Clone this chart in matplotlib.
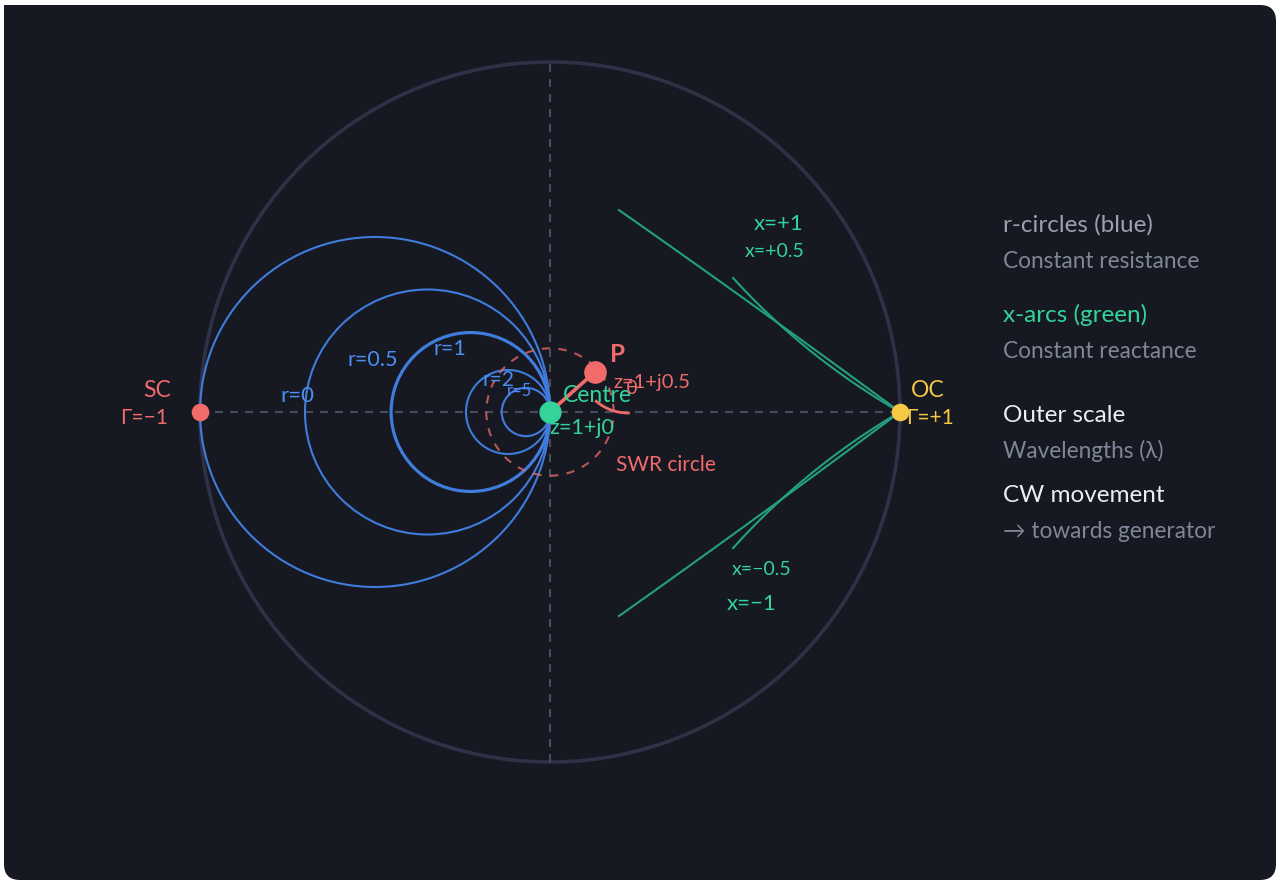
import numpy as np
import matplotlib
matplotlib.use("Agg")
import matplotlib.pyplot as plt
from matplotlib.patches import Circle, FancyBboxPatch, Arc, Rectangle

plt.rcParams['font.family'] = ['Lato', 'DejaVu Sans']

# ---------------- data ----------------
r_values = [0, 0.5, 1, 2, 5]
r_radii = [0.500, 0.350, 0.227, 0.120, 0.069]      # drawn radius of each r-circle (chart units)
r_widths = [1.5, 1.5, 2.3, 1.5, 1.5]
r_labels = ["r=0", "r=0.5", "r=1", "r=2", "r=5"]

x_values = [1, 0.5, -0.5, -1]
x_end_points = [(0.197, 0.577), (0.523, 0.383), (0.523, -0.389), (0.197, -0.583)]
x_bulge = [-0.003, 0.024, -0.024, 0.003]
x_labels = ["x=+1", "x=+0.5", "x=\u22120.5", "x=\u22121"]

swr_radius = 0.182
point_P = (0.129, 0.115)

legend_items = [
    ("r-circles (blue)", "title_gray"),
    ("Constant resistance", "sub"),
    ("x-arcs (green)", "title_green"),
    ("Constant reactance", "sub"),
    ("Outer scale", "title_white"),
    ("Wavelengths (\u03bb)", "sub"),
    ("CW movement", "title_white"),
    ("\u2192 towards generator", "sub"),
]
legend_y_px = [224, 260, 314, 351, 415, 450, 494, 530]

# ---------------- colours ----------------
BG = "#161922"
OUTER = "#2e3246"
AXIS = "#474d5e"
BLUE = "#3f7cdb"
BLUE_T = "#4d8ef2"
GREEN_LINE = "#23a07e"
GREEN = "#34d399"
RED = "#f26b6b"
YELLOW = "#f6c945"
GRAY_T = "#9ba1b1"
GRAY_S = "#7f8698"
WHITE = "#eceef3"

W, H = 1277, 881
CX, CY, UNIT = 550, 412, 350.0

def px(xp, yp):
    return ((xp - CX) / UNIT, (CY - yp) / UNIT)

fig = plt.figure(figsize=(W / 100, H / 100), dpi=100)
fig.patch.set_facecolor("white")

bg = fig.add_axes([0, 0, 1, 1])
bg.set_xlim(0, W)
bg.set_ylim(H, 0)
bg.axis("off")
bg.add_patch(FancyBboxPatch((4, 5), 1272, 875, boxstyle="round,pad=0,rounding_size=16",
                            fc=BG, ec="none"))
bg.add_patch(Rectangle((4, 5), 40, 40, fc=BG, ec="none"))

ax = fig.add_axes([0, 0, 1, 1], zorder=2)
ax.set_facecolor("none")
ax.set_xlim(-CX / UNIT, (W - CX) / UNIT)
ax.set_ylim(-(H - CY) / UNIT, CY / UNIT)
ax.axis("off")

# outer circle
ax.add_patch(Circle((0, 0), 1.0, fill=False, ec=OUTER, lw=2.6, zorder=1))

# dashed axes
for xs, ys in [([-1, 1], [0, 0]), ([0, 0], [-1, 1])]:
    ln, = ax.plot(xs, ys, color=AXIS, lw=1.5, zorder=1.5)
    ln.set_dashes([3.8, 3.4])

# r-circles (tangent at centre)
for rad, lw in zip(r_radii, r_widths):
    ax.add_patch(Circle((-rad, 0), rad, fill=False, ec=BLUE, lw=lw, zorder=2))

# x-arcs
t = np.linspace(0, 1, 120)
for (ex, ey), b in zip(x_end_points, x_bulge):
    A = np.array([1.0, 0.0])
    B = np.array([ex, ey])
    d = B - A
    n = np.array([-d[1], d[0]]) / np.hypot(*d)
    pts = A[None, :] + t[:, None] * d[None, :] + (4 * b * t * (1 - t))[:, None] * n[None, :]
    ax.plot(pts[:, 0], pts[:, 1], color=GREEN_LINE, lw=1.5, zorder=2.2)

# SWR circle
swr = Circle((0, 0), swr_radius, fill=False, ec=RED, lw=1.5, alpha=0.75, zorder=3)
swr.set_linestyle((0, (4, 4)))
ax.add_patch(swr)

# radius to P
ax.plot([0, point_P[0]], [0, point_P[1]], color=RED, lw=2.6, zorder=4, solid_capstyle="round")

# angle arc
ac = px(628, 364)
ax.add_patch(Arc(ac, 2 * 49 / UNIT, 2 * 49 / UNIT, theta1=228, theta2=272,
                 color=RED, lw=2.0, zorder=4))

# dots
ax.plot(*point_P, "o", ms=16.3, color=RED, mec="none", zorder=5)
ax.plot(0, 0, "o", ms=16.0, color=GREEN, mec="none", zorder=5)
ax.plot(-1, 0, "o", ms=12.7, color=RED, mec="none", zorder=5)
ax.plot(1, 0, "o", ms=12.7, color=YELLOW, mec="none", zorder=5)

def lab(xp, yp, s, color, size, ha="center", weight="normal", z=6):
    ax.text(*px(xp, yp), s, color=color, fontsize=size, ha=ha, va="center",
            fontweight=weight, zorder=z)

# r labels
r_label_px = [(297, 396), (373, 360), (450, 349), (498, 380), (519, 391)]
r_label_size = [16, 15.5, 15.5, 15, 12]
for (xp, yp), s, fs in zip(r_label_px, r_labels, r_label_size):
    lab(xp, yp, s, BLUE_T, fs)

# x labels
x_label_px = [(779, 224), (775, 252), (762, 570), (752, 604)]
x_label_size = [16, 14, 14, 16]
for (xp, yp), s, fs in zip(x_label_px, x_labels, x_label_size):
    lab(xp, yp, s, GREEN, fs)

lab(157, 391, "SC", RED, 16.5)
lab(144, 418, "\u0393=\u22121", RED, 15)
lab(928, 391, "OC", YELLOW, 16.5)
lab(930, 418, "\u0393=+1", YELLOW, 15)
lab(597, 396, "Centre", GREEN, 16.5)
lab(582, 428, "z=1+j0", GREEN, 15.5)
lab(618, 355, "P", RED, 17.5, weight="bold")
lab(652, 383, "z=1+j0.5", RED, 14.5)
lab(632, 389, "\u03b8", RED, 14.5)
lab(666, 465, "SWR circle", RED, 15)

# legend text on the right
style = {
    "title_gray": (GRAY_T, 17.5),
    "title_green": (GREEN, 17.5),
    "title_white": (WHITE, 17.5),
    "sub": (GRAY_S, 16.3),
}
for (s, kind), yp in zip(legend_items, legend_y_px):
    c, fs = style[kind]
    bg.text(1003, yp + 1, s, color=c, fontsize=fs, ha="left", va="center", zorder=3)

fig.savefig("out.png", dpi=100, facecolor=fig.get_facecolor())
